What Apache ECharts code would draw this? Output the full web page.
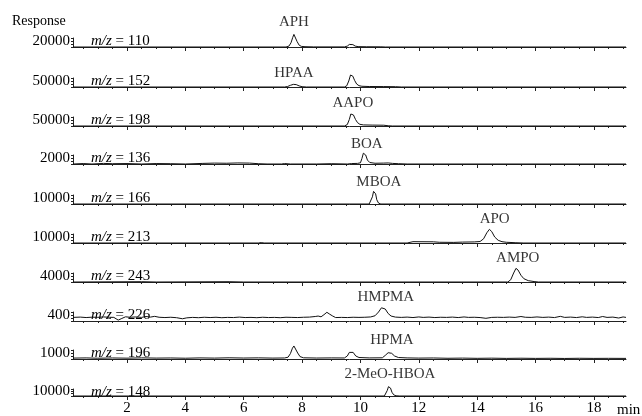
<!DOCTYPE html>
<html><head><meta charset="utf-8">
<script src="https://cdn.jsdelivr.net/npm/echarts@6/dist/echarts.min.js"></script>
<style>html,body{margin:0;padding:0;background:#fff}#c{width:642px;height:416px}</style>
</head><body><div id="c"></div>
<script>
// ---------- data ----------
const mzValues = [110, 152, 198, 136, 166, 213, 243, 226, 196, 148];
const yTickLabels = [20000, 50000, 50000, 2000, 10000, 10000, 4000, 400, 1000, 10000];
const peakNames = ['APH', 'HPAA', 'AAPO', 'BOA', 'MBOA', 'APO', 'AMPO', 'HMPMA', 'HPMA', '2-MeO-HBOA'];
const peakTimes = [7.72, 7.72, 9.74, 10.22, 10.63, 14.6, 15.39, 10.87, 11.08, 11.01];
const xTickLabels = [2, 4, 6, 8, 10, 12, 14, 16, 18];
const xMinorTicks = [0.5,1,1.5,2,2.5,3,3.5,4,4.5,5,5.5,6,6.5,7,7.5,8,8.5,9,9.5,10,10.5,11,11.5,12,12.5,13,13.5,14,14.5,15,15.5,16,16.5,17,17.5,18,18.5,19];

const trace110 = [[0.15,0],[7.45,0],[7.55,3000],[7.62,14000],[7.68,32000],[7.72,42000],[7.77,36000],[7.83,18000],[7.9,6000],[7.98,2000],[8.1,1000],[8.4,300],[9.45,300],[9.55,3000],[9.62,8500],[9.68,11000],[9.74,8000],[9.82,3000],[9.92,1200],[10.2,800],[10.7,600],[10.85,0],[19.1,0]];
const trace152 = [[0.15,0],[7.4,0],[7.5,4000],[7.6,14000],[7.7,22000],[7.8,20000],[7.9,9000],[8.0,2500],[8.15,0],[9.45,0],[9.53,10000],[9.6,50000],[9.66,100000],[9.69,108000],[9.74,90000],[9.8,55000],[9.87,25000],[9.95,11000],[10.05,6000],[10.3,4000],[10.8,3500],[11.2,2500],[11.4,0],[19.1,0]];
const trace198 = [[0.15,0],[9.45,0],[9.55,12000],[9.62,55000],[9.67,100000],[9.71,111000],[9.76,92000],[9.83,55000],[9.9,28000],[9.98,14000],[10.1,9000],[10.4,7500],[10.8,6500],[10.95,2000],[11.1,0],[19.1,0]];
const trace136 = [[0.15,0],[0.5,150],[0.8,0],[1.2,200],[1.5,100],[2.0,150],[2.5,0],[3.0,150],[3.5,100],[4.0,0],[4.6,200],[5.0,300],[5.4,250],[5.8,350],[6.2,300],[6.5,100],[6.8,0],[7.3,0],[7.4,150],[7.6,0],[8.5,0],[9.0,100],[9.55,0],[9.7,150],[9.9,200],[10.0,400],[10.05,1800],[10.1,3600],[10.13,4100],[10.18,3000],[10.24,1300],[10.32,500],[10.5,250],[10.8,300],[10.95,350],[11.1,200],[11.3,100],[11.6,0],[19.1,0]];
const trace166 = [[0.15,0],[10.3,0],[10.36,2500],[10.41,12000],[10.45,21000],[10.48,23300],[10.52,17000],[10.56,7000],[10.62,1500],[10.7,0],[19.1,0]];
const trace213 = [[0.15,0],[6.5,0],[6.6,700],[6.7,0],[11.6,0],[11.8,2200],[12.5,2000],[12.7,1200],[13.2,1000],[13.5,1500],[13.9,1800],[14.1,2500],[14.22,7000],[14.33,17000],[14.42,22800],[14.5,19000],[14.6,10000],[14.72,4500],[14.85,2200],[15.0,1200],[15.3,500],[15.6,0],[19.1,0]];
const trace243 = [[0.15,0],[2.5,200],[3.0,0],[5.5,200],[6.0,0],[15.05,0],[15.15,1500],[15.25,6000],[15.33,9100],[15.4,8000],[15.5,4500],[15.6,2200],[15.75,900],[15.95,300],[16.1,0],[19.1,0]];
const trace226 = [[0.15,240],[0.4,260],[0.6,230],[0.8,255],[1.0,245],[1.2,270],[1.4,250],[1.55,240],[1.7,60],[1.8,150],[1.95,280],[2.1,250],[2.3,270],[2.5,240],[2.65,300],[2.8,260],[2.95,310],[3.1,250],[3.3,230],[3.5,250],[3.7,220],[3.9,150],[4.05,210],[4.25,240],[4.45,220],[4.65,250],[4.85,230],[5.05,250],[5.25,220],[5.45,240],[5.65,230],[5.85,260],[6.05,230],[6.25,240],[6.45,220],[6.65,250],[6.85,230],[7.05,240],[7.25,220],[7.45,250],[7.65,240],[7.85,230],[8.05,250],[8.25,260],[8.45,300],[8.55,330],[8.65,280],[8.75,420],[8.85,580],[8.95,450],[9.05,330],[9.15,230],[9.35,240],[9.55,230],[9.75,250],[9.95,240],[10.15,250],[10.35,270],[10.5,350],[10.62,600],[10.72,880],[10.78,930],[10.85,800],[10.95,500],[11.05,330],[11.2,260],[11.4,240],[11.6,260],[11.8,230],[12.0,270],[12.15,240],[12.35,260],[12.55,230],[12.75,250],[12.95,240],[13.15,260],[13.35,230],[13.55,270],[13.7,240],[13.9,250],[14.1,230],[14.3,180],[14.5,240],[14.7,250],[14.9,240],[15.1,260],[15.3,240],[15.5,300],[15.65,250],[15.85,240],[16.05,270],[16.25,240],[16.45,260],[16.65,230],[16.85,310],[17.0,240],[17.2,260],[17.4,230],[17.6,280],[17.75,240],[17.95,260],[18.15,230],[18.3,300],[18.45,240],[18.65,260],[18.85,200],[19.0,270],[19.1,240]];
const trace196 = [[0.15,150],[0.6,180],[1.0,130],[1.5,170],[2.0,140],[2.5,190],[3.0,150],[3.5,170],[4.0,130],[4.5,180],[5.0,150],[5.5,200],[6.0,160],[6.5,190],[7.0,150],[7.4,170],[7.52,300],[7.6,900],[7.67,1800],[7.72,2170],[7.78,1900],[7.85,1000],[7.93,400],[8.05,200],[8.5,160],[9.0,180],[9.45,170],[9.55,500],[9.62,1100],[9.68,1330],[9.75,1100],[9.84,500],[9.95,250],[10.3,180],[10.75,200],[10.85,600],[10.95,1050],[11.0,1120],[11.07,950],[11.17,500],[11.3,250],[11.6,180],[12.0,150],[12.5,170],[13.0,120],[13.5,150],[14.0,110],[14.5,140],[15.0,100],[15.5,130],[16.0,100],[16.5,120],[17.0,90],[17.5,120],[18.0,100],[18.5,110],[19.1,100]];
const trace148 = [[0.15,0],[10.82,0],[10.87,3000],[10.92,12000],[10.96,20000],[10.99,21700],[11.03,17000],[11.08,8000],[11.14,2500],[11.22,500],[11.35,0],[19.1,0]];

const traces = [trace110, trace152, trace198, trace136, trace166, trace213, trace243, trace226, trace196, trace148];

// ---------- layout / style ----------
const baselines = [47, 87, 126, 164, 204, 243, 282, 321, 359, 398];
const labelRise = [25, 14, 23, 20, 22, 24, 24, 24, 19, 22];
const gridH = 9;
const FONT = 'Liberation Serif';
const INK = '#000';
const LINE = '#222';

const grid = [], xAxis = [], yAxis = [], series = [], graphic = [];
baselines.forEach((b, i) => {
  const L = yTickLabels[i];
  const last = i === baselines.length - 1;
  grid.push({ left: 73, width: 553, top: b - gridH, height: gridH });
  xAxis.push({
    gridIndex: i, type: 'value', min: 0.15, max: 19.1, position: 'bottom',
    axisLine: { show: true, onZero: false, lineStyle: { color: LINE, width: 1 } },
    axisTick: { show: true, customValues: xMinorTicks, length: 2, lineStyle: { color: LINE } },
    axisLabel: { show: false }, splitLine: { show: false }
  });
  xAxis.push({
    gridIndex: i, type: 'value', min: 0.15, max: 19.1, position: 'bottom', offset: 0,
    axisLine: { show: false, onZero: false },
    axisTick: { show: true, customValues: xTickLabels, length: 4, lineStyle: { color: LINE } },
    axisLabel: last ? { show: true, customValues: xTickLabels, fontSize: 15, fontFamily: FONT, color: INK, margin: 5 } : { show: false },
    splitLine: { show: false }
  });
  yAxis.push({
    gridIndex: i, type: 'value', min: 0, max: 1.5 * L, interval: 0.5 * L,
    axisLine: { show: true, onZero: false, lineStyle: { color: LINE, width: 1 } },
    axisTick: { show: true, length: 2, lineStyle: { color: LINE } },
    axisLabel: { formatter: v => (v === L ? String(L) : ''), fontSize: 15, fontFamily: FONT, color: INK, margin: 3 },
    splitLine: { show: false }
  });
  series.push({
    type: 'line', xAxisIndex: 2 * i, yAxisIndex: i, data: traces[i],
    symbol: 'none', showSymbol: false, clip: false, silent: true,
    lineStyle: { color: '#111', width: 1 }
  });
  series.push({
    type: 'scatter', xAxisIndex: 2 * i, yAxisIndex: i, data: [[peakTimes[i], 0]],
    symbolSize: 0, clip: false, silent: true,
    label: { show: true, formatter: peakNames[i], position: 'inside', offset: [0, -labelRise[i]], fontSize: 15, fontFamily: FONT, color: INK }
  });
  graphic.push({
    type: 'text', x: 91, y: b - 6, silent: true,
    style: {
      text: '{i|m/z} = ' + mzValues[i], fontSize: 15, fontFamily: FONT, fill: INK, verticalAlign: 'middle',
      rich: { i: { fontStyle: 'italic', fontSize: 15, fontFamily: FONT, fill: INK } }
    }
  });
});
graphic.push({ type: 'text', x: 12, y: 21, silent: true, style: { text: 'Response', fontSize: 14, fontFamily: FONT, fill: INK, verticalAlign: 'middle' } });
graphic.push({ type: 'text', x: 617, y: 410, silent: true, style: { text: 'min', fontSize: 15, fontFamily: FONT, fill: INK, verticalAlign: 'middle' } });

const chart = echarts.init(document.getElementById('c'));
chart.setOption({ animation: false, backgroundColor: '#fff', grid, xAxis, yAxis, series, graphic });
</script></body></html>
